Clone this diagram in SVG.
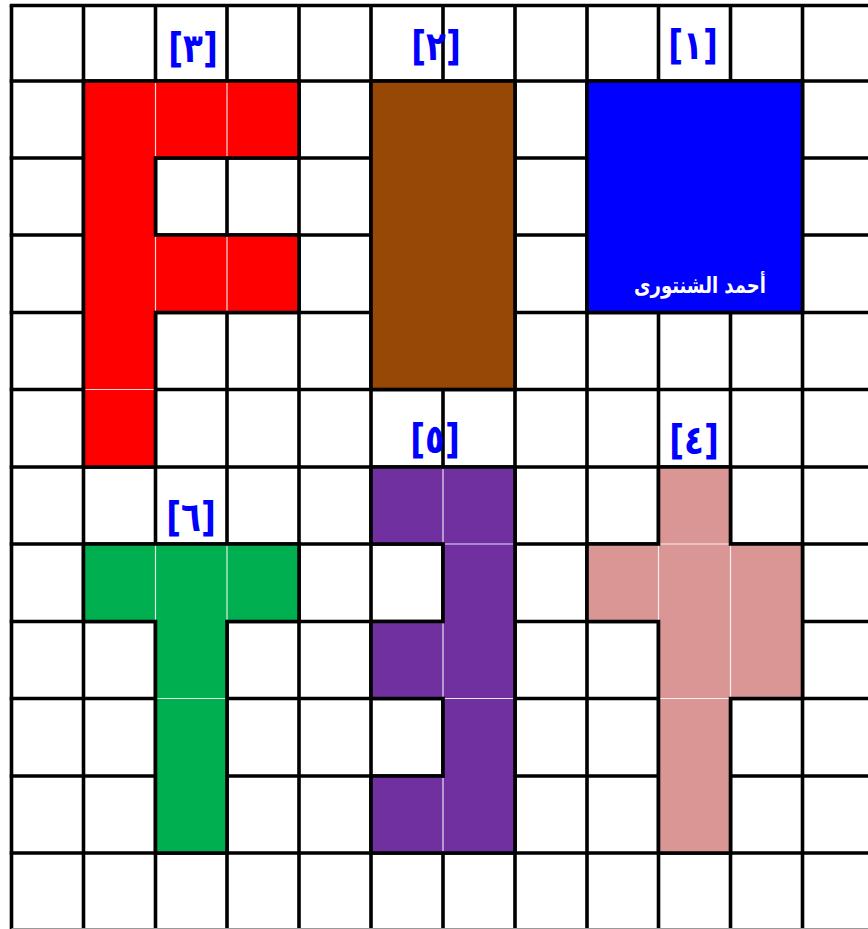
<svg xmlns="http://www.w3.org/2000/svg" width="868" height="929" viewBox="0 0 868 929">
<style>
.g{stroke:#000;stroke-width:3.6;fill:none}
.o{stroke:#000;stroke-width:3.6;stroke-linejoin:miter}
.w{stroke:#fff;stroke-width:1.2;opacity:0.85}
.lbl{font-family:"DejaVu Sans",sans-serif;font-weight:bold;font-size:31px;fill:#0000ff;text-anchor:middle;direction:ltr}
.name{font-family:"DejaVu Sans","Noto Sans",sans-serif;font-weight:bold;font-size:18px;fill:#fff;text-anchor:middle}
</style>
<rect x="0" y="0" width="868" height="929" fill="#fff"/>
<g id="grid">
<path class="g" d="M11.5,5.5V929M83.5,5.5V929M155.5,5.5V929M227,5.5V929M299,5.5V929M371,5.5V929M443,5.5V929M515,5.5V929M587,5.5V929M658.5,5.5V929M730.5,5.5V929M802.5,5.5V929"/>
<path class="g" d="M9.7,5.5H868M9.7,81H868M9.7,158H868M9.7,235H868M9.7,312.5H868M9.7,389.5H868M9.7,467H868M9.7,544H868M9.7,621.5H868M9.7,698.5H868M9.7,776H868M9.7,853H868"/>
<path d="M11.5,928.5H868" stroke="#999" stroke-width="1"/>
</g>
<g id="shape1-blue">
<rect class="o" x="587" y="81" width="215.5" height="231.5" fill="#0000ff"/>
<text class="name" transform="translate(700,293) scale(1,1.25)">أحمد الشنتورى</text>
</g>
<g id="shape2-brown">
<rect class="o" x="371" y="81" width="144" height="308.5" fill="#974806"/>
</g>
<g id="shape3-red">
<path class="o" fill="#ff0000" d="M83.5,81H299V158H155.5V235H299V312.5H155.5V467H83.5Z"/>
<path class="w" d="M155.5,83V156M227,83V156M155.5,237V310.5M227,237V310.5M85.5,389.5H153.5"/>
</g>
<g id="shape4-pink">
<path class="o" fill="#da9694" d="M658.5,467H730.5V544H802.5V698.5H730.5V853H658.5V621.5H587V544H658.5Z"/>
<path class="w" d="M658.5,546V619.5M730.5,546V696.5M660.5,544H728.5M660.5,698.5H728.5"/>
</g>
<g id="shape5-purple">
<path class="o" fill="#7030a0" d="M371,467H515V853H371V776H443V698.5H371V621.5H443V544H371Z"/>
<path class="w" d="M443,469V542M443,623.5V696.5M443,778V851M445,544H513M445,698.5H513"/>
</g>
<g id="shape6-green">
<path class="o" fill="#00b050" d="M83.5,544H299V621.5H227V853H155.5V621.5H83.5Z"/>
<path class="w" d="M155.5,546V619.5M227,546V619.5M157.5,698.5H225"/>
</g>
<g id="labels">
<text class="lbl" transform="translate(193,62) scale(1.05,1.3)">[٣]</text>
<text class="lbl" transform="translate(436,60) scale(1.05,1.3)">[٢]</text>
<text class="lbl" transform="translate(693,59) scale(1.05,1.3)">[١]</text>
<text class="lbl" transform="translate(435,453) scale(1.05,1.3)">[٥]</text>
<text class="lbl" transform="translate(694,454) scale(1.05,1.3)">[٤]</text>
<text class="lbl" transform="translate(191,531) scale(1.05,1.3)">[٦]</text>
</g>
</svg>
